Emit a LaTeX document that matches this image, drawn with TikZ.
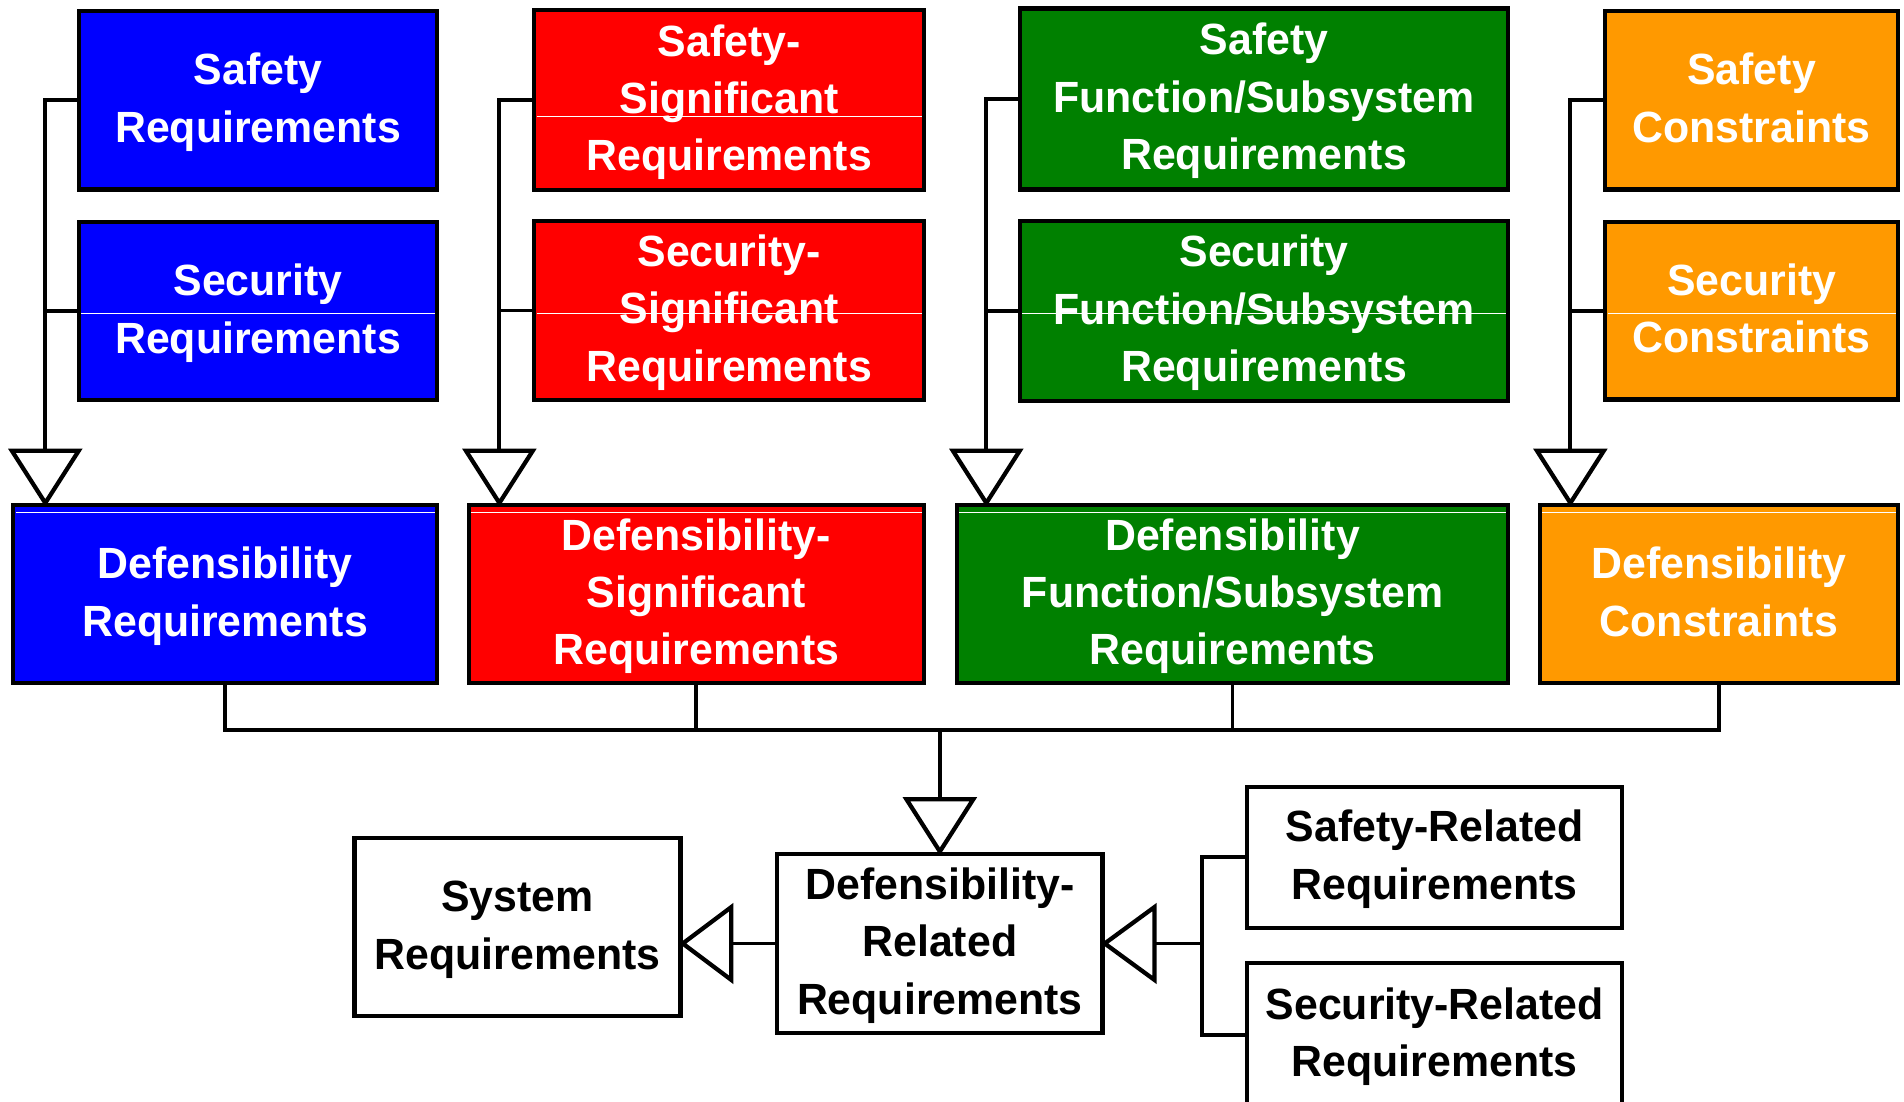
\documentclass[tikz,border=0pt]{standalone}
\usepackage{fontspec}
\setmainfont{Liberation Sans}[FakeStretch=0.98]
\usetikzlibrary{calc}
\definecolor{cblue}{RGB}{0,0,255}
\definecolor{cred}{RGB}{255,0,0}
\definecolor{cgreen}{RGB}{0,128,0}
\definecolor{corange}{RGB}{255,153,0}
\newcommand\sx{\vrule height 15pt depth 4pt width 0pt}
\begin{document}
\begin{tikzpicture}[x=0.5pt,y=-0.5pt,
  bx/.style={draw=black, line width=1.75pt, rectangle, inner sep=0pt, align=center,
             font=\fontsize{18}{23.6}\selectfont\bfseries},
  wbx/.style={bx, text=white},
  conn/.style={draw=black, line width=1.6pt},
  tri/.style={draw=black, fill=white, line width=1.75pt, line join=miter},
  art/.style={draw=white, line width=0.4pt}]
\clip (0,0) rectangle (1568,907.5);
\fill[white] (0,0) rectangle (1568,907.5);

% top row
\node[wbx, fill=cblue, minimum width=147.5pt, minimum height=73.5pt] (b1) at (212.5,82.5) {\sx Safety\\\sx Requirements};
\node[wbx, fill=cred, minimum width=160.5pt, minimum height=74pt] (r1) at (600.5,82.5) {\sx Safety-\\\sx Significant\\\sx Requirements};
\node[wbx, fill=cgreen, minimum width=201pt, minimum height=74.5pt] (g1) at (1041,81.5) {\sx Safety\\\sx Function/Subsystem\\\sx Requirements};
\node[wbx, fill=corange, minimum width=120.5pt, minimum height=73.5pt] (o1) at (1442.5,82.5) {\sx Safety\\\sx Constraints};
% second row
\node[wbx, fill=cblue, minimum width=147.5pt, minimum height=73.25pt] (b2) at (212.5,256.25) {\sx Security\\\sx Requirements};
\node[wbx, fill=cred, minimum width=160.5pt, minimum height=73.75pt] (r2) at (600.5,255.75) {\sx Security-\\\sx Significant\\\sx Requirements};
\node[wbx, fill=cgreen, minimum width=201pt, minimum height=74pt] (g2) at (1041,256) {\sx Security\\\sx Function/Subsystem\\\sx Requirements};
\node[wbx, fill=corange, minimum width=120.5pt, minimum height=73pt] (o2) at (1442.5,256) {\sx Security\\\sx Constraints};
% third row
\node[wbx, fill=cblue, minimum width=174.65pt, minimum height=73.25pt] (b3) at (185.4,489.25) {\sx Defensibility\\\sx Requirements};
\node[wbx, fill=cred, minimum width=187.5pt, minimum height=73.25pt] (r3) at (573.5,489.25) {\sx Defensibility-\\\sx Significant\\\sx Requirements};
\node[wbx, fill=cgreen, minimum width=227pt, minimum height=73.25pt] (g3) at (1015,489.25) {\sx Defensibility\\\sx Function/Subsystem\\\sx Requirements};
\node[wbx, fill=corange, minimum width=147.5pt, minimum height=73.25pt] (o3) at (1415.5,489.25) {\sx Defensibility\\\sx Constraints};
% bottom
\node[bx, fill=white, minimum width=134pt, minimum height=74pt] (dr) at (774,777) {\sx Defensibility-\\\sx Related\\\sx Requirements};
\node[bx, fill=white, minimum width=134.25pt, minimum height=73.5pt] (sys) at (426.25,763.5) {\sx System\\\sx Requirements};
\node[bx, fill=white, minimum width=154.5pt, minimum height=58pt] (sr) at (1181.5,706) {\sx Safety-Related\\\sx Requirements};
\node[bx, fill=white, minimum width=154.5pt, minimum height=59pt] (secr) at (1181.5,852) {\sx Security-Related\\\sx Requirements};

% thin white artefact lines
\draw[art] (442,95.6) -- (759,95.6);
\draw[art] (67,258.5) -- (358,258.5);
\draw[art] (442,258.5) -- (759,258.5);
\draw[art] (842,258.5) -- (1240,258.5);
\draw[art] (1324,258.5) -- (1561,258.5);
\draw[art] (13,422) -- (358,422);
\draw[art] (388,422) -- (759,422);
\draw[art] (790,422) -- (1240,422);
\draw[art] (1270,422) -- (1561,422);

% column connectors
\foreach \u/\v/\w/\dx in {b1/b2/b3/28.3, r1/r2/r3/27, g1/g2/g3/26, o1/o2/o3/27} {
  \coordinate (a\w) at ($(\w.north west)+(\dx,0)$);
  \draw[conn] (\u.west) -| ($(a\w)+(0,-43)$);
  \draw[conn] (\v.west) -- (\v.west -| a\w);
  \draw[tri] (a\w) -- ++(-27.5,-43) -- ++(55,0) -- cycle;
}

% bus to defensibility-related
\coordinate (bus) at ($(dr.north)+(0,-100)$);
\draw[conn] (b3.south) |- (o3.south |- bus) -- (o3.south);
\draw[conn] (r3.south) -- (r3.south |- bus);
\draw[conn] (g3.south) -- (g3.south |- bus);
\draw[conn] (bus) -- ($(dr.north)+(0,-43)$);
\draw[tri] (dr.north) -- ++(-27.5,-43) -- ++(55,0) -- cycle;

% to system requirements
\coordinate (al) at (sys.east |- dr.west);
\draw[conn] (dr.west) -- ($(al)+(40,0)$);
\draw[tri] (al) -- ++(40,-30) -- ++(0,60) -- cycle;

% from safety/security-related
\coordinate (rj) at ($(dr.east)+(80,0)$);
\draw[conn] (sr.west) -| (rj) |- (secr.west);
\draw[conn] ($(dr.east)+(41,0)$) -- (rj);
\draw[tri] (dr.east) -- ++(41,-30) -- ++(0,60) -- cycle;
\end{tikzpicture}
\end{document}
